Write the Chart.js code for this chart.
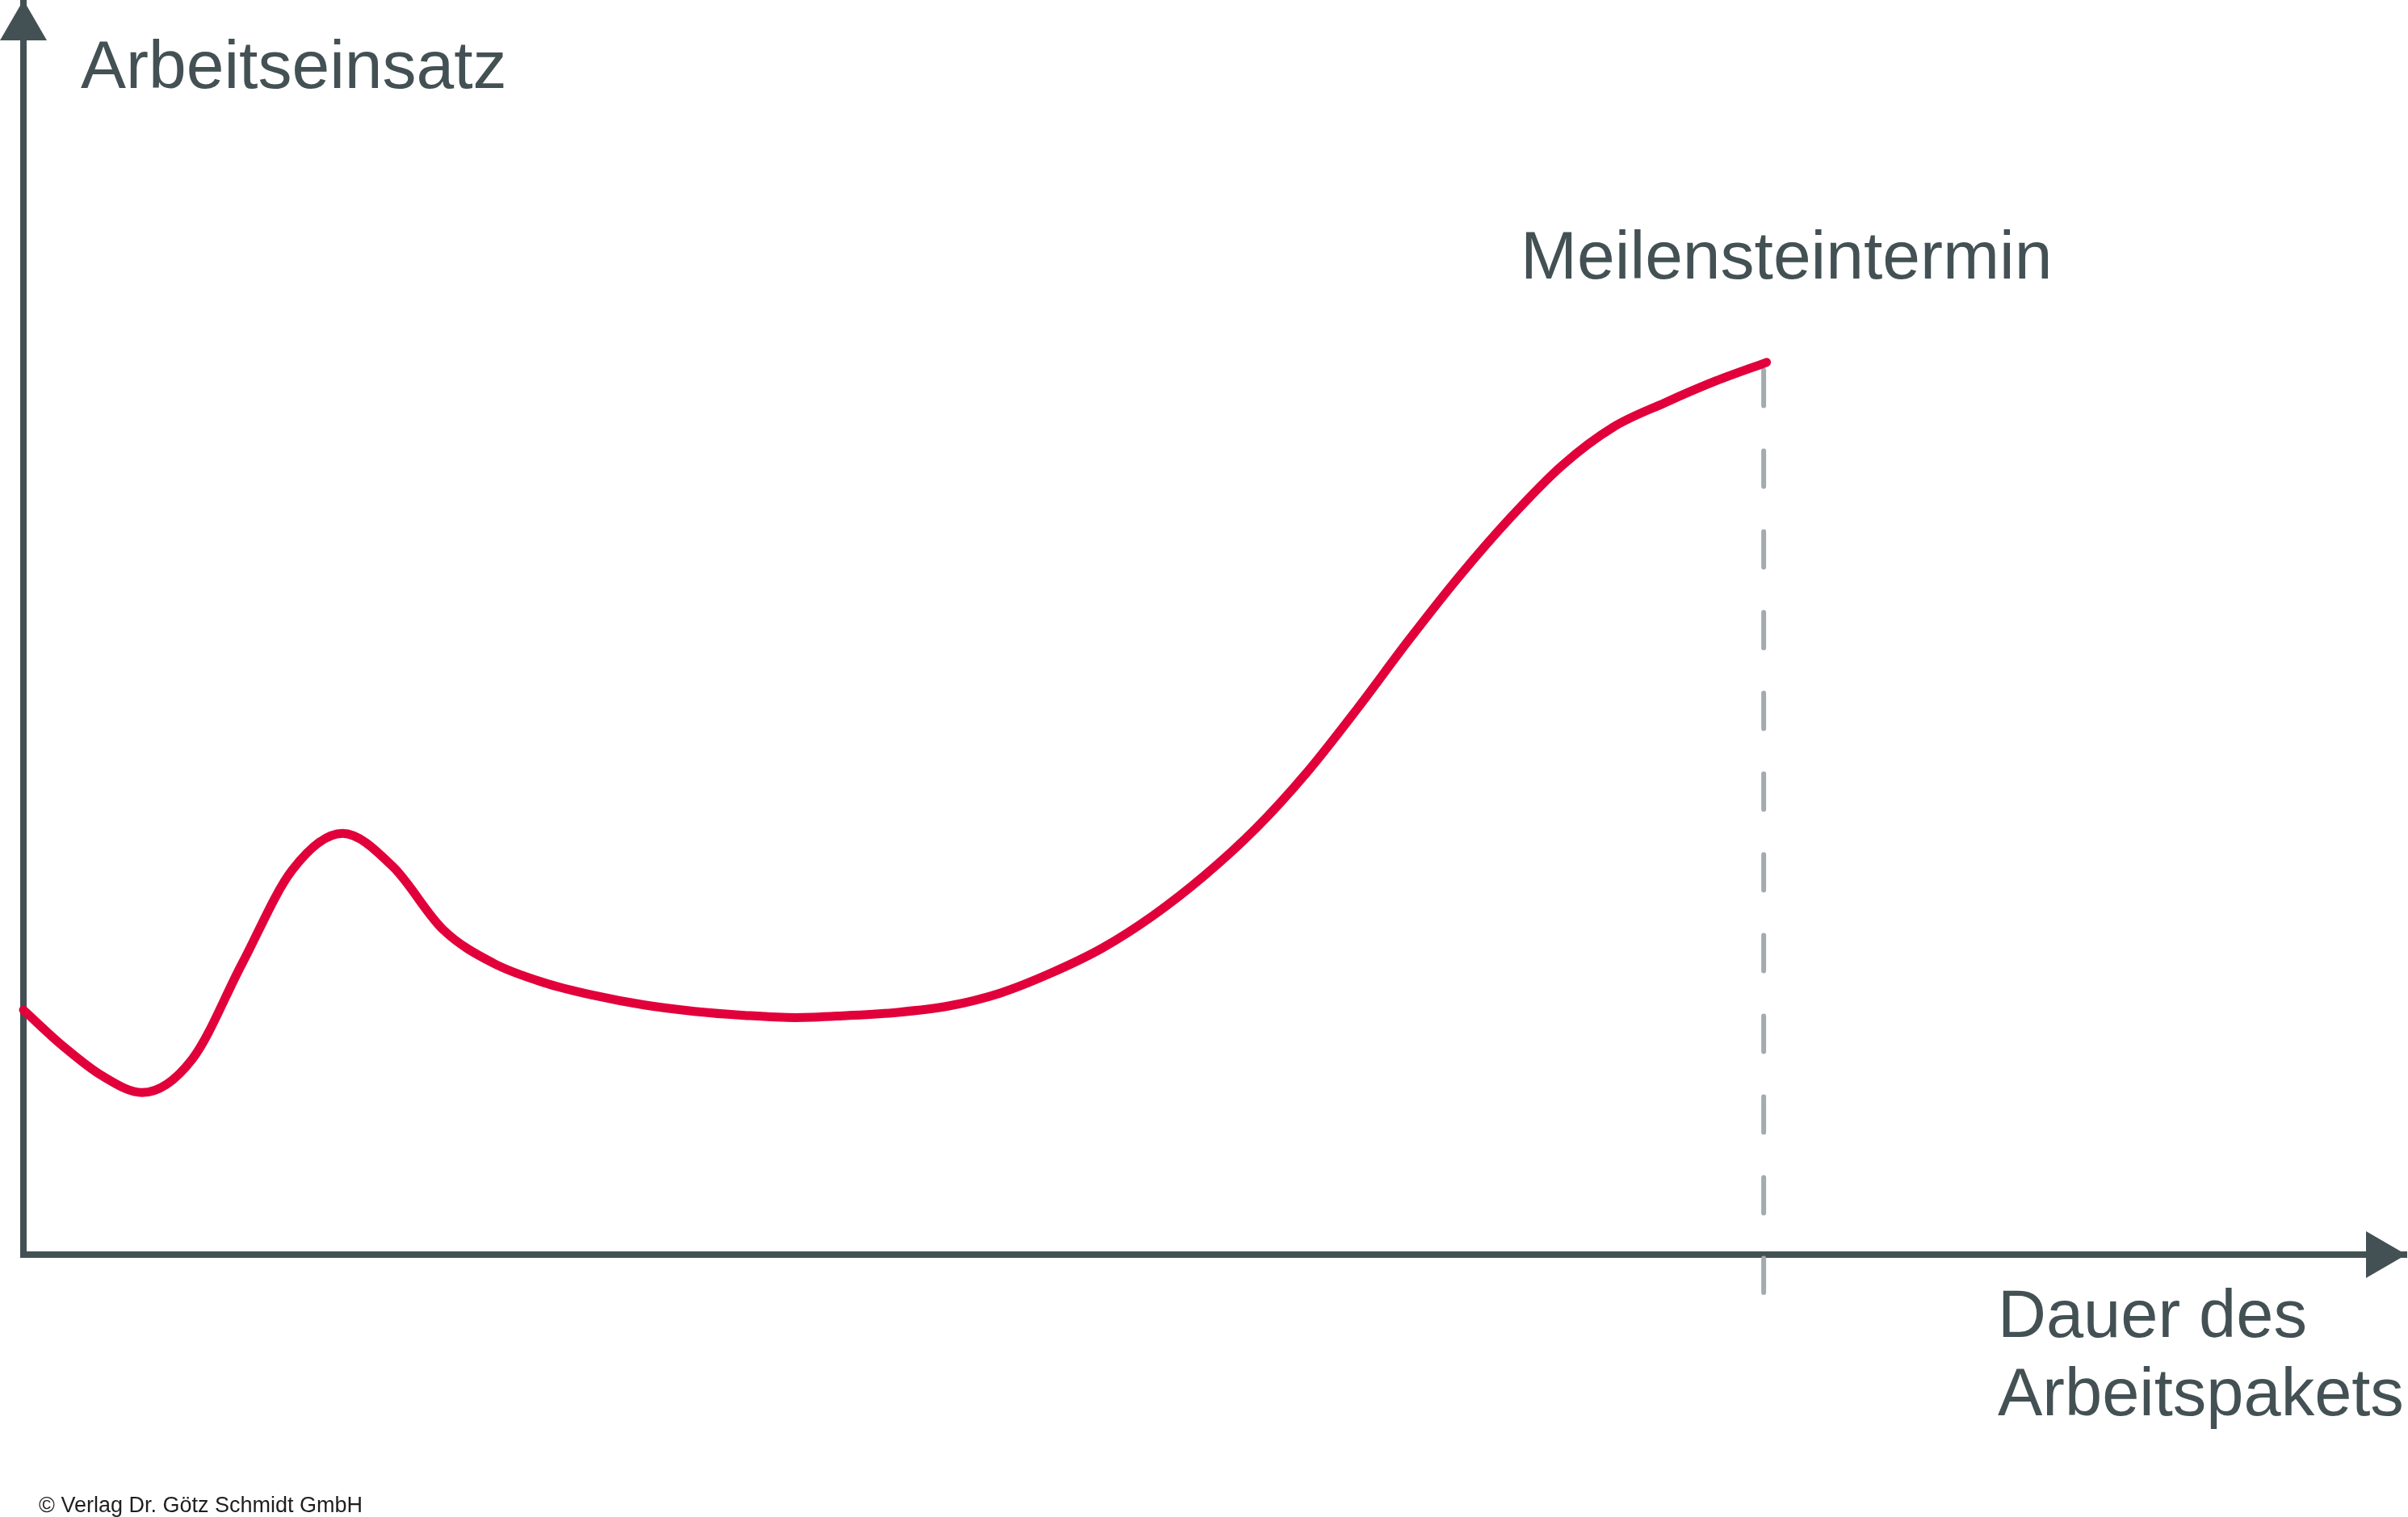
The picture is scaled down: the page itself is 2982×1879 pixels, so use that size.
<!DOCTYPE html>
<html lang="de">
<head>
<meta charset="utf-8">
<title>Arbeitseinsatz</title>
<script src="https://cdn.jsdelivr.net/npm/chart.js@4.4.1/dist/chart.umd.min.js"></script>
<style>
  html, body { margin: 0; padding: 0; background: #fff; }
  canvas { display: block; }
</style>
</head>
<body>
<canvas id="effortChart" width="2982" height="1879"></canvas>
<script>
// time axis (0..100 = whole x axis up to the arrow tip)
const zeit = [0, 1.66, 3.32, 4.98, 7.08, 9.18, 11.28, 13.39, 15.50, 17.61, 19.72, 21.83,
  23.94, 26.05, 28.16, 30.27, 32.40, 34.54, 36.69, 38.83, 40.98, 43.12, 45.27, 47.41,
  49.56, 51.70, 53.85, 55.99, 58.14, 60.28, 62.43, 64.57, 66.72, 68.86, 71.01, 73.15];
// effort (0..100 = whole y axis up to the arrow tip)
const einsatz = [19.50, 16.62, 14.23, 12.92, 15.57, 23.21, 30.65, 33.57, 30.93, 25.91,
  23.23, 21.69, 20.66, 19.90, 19.39, 19.07, 18.89, 19.05, 19.31, 19.82, 20.84, 22.44,
  24.43, 27.03, 30.21, 33.93, 38.41, 43.55, 48.99, 54.12, 58.80, 62.90, 65.96, 67.88,
  69.63, 71.12];

const meilenstein = 73.03;
const meilensteinSpanne = [70.5, -3.02];

const yTitel = 'Arbeitseinsatz';
const xTitel = ['Dauer des', 'Arbeitspakets'];
const meilensteinTitel = 'Meilensteintermin';
const copyright = '© Verlag Dr. Götz Schmidt GmbH';

const axisColor = '#435154';
const curveColor = '#E2003B';
const dashColor = '#A3ABAE';
const fontFamily = '"Liberation Sans", Arial, sans-serif';

const curvePoints = zeit.map((x, i) => ({ x: x, y: einsatz[i] }));
const milestonePoints = meilensteinSpanne.map(y => ({ x: meilenstein, y: y }));

// arrow heads and the free-standing texts
const decorations = {
  id: 'decorations',
  afterDraw(chart) {
    const { ctx } = chart;
    const xs = chart.scales.x;
    const ys = chart.scales.y;
    const ox = xs.getPixelForValue(0);
    const oy = ys.getPixelForValue(0);
    ctx.save();
    ctx.fillStyle = axisColor;

    // y arrow
    const topY = ys.getPixelForValue(100);
    ctx.beginPath();
    ctx.moveTo(ox, topY);
    ctx.lineTo(ox + 29, topY + 50);
    ctx.lineTo(ox - 29, topY + 50);
    ctx.closePath();
    ctx.fill();

    // x arrow
    const endX = xs.getPixelForValue(100);
    ctx.beginPath();
    ctx.moveTo(endX, oy);
    ctx.lineTo(endX - 50, oy - 29);
    ctx.lineTo(endX - 50, oy + 29);
    ctx.closePath();
    ctx.fill();

    ctx.font = '84px ' + fontFamily;
    ctx.textBaseline = 'alphabetic';
    ctx.textAlign = 'left';
    ctx.fillText(yTitel, ox + 71, topY + 109);

    const mx = xs.getPixelForValue(meilenstein);
    ctx.fillText(meilensteinTitel, mx - 301, 345);

    ctx.font = '83px ' + fontFamily;
    ctx.fillText(xTitel[0], 2474, oy + 102);
    ctx.fillText(xTitel[1], 2474, oy + 199);

    ctx.fillStyle = '#1e1e1e';
    ctx.font = '27px ' + fontFamily;
    ctx.fillText(copyright, 48, 1873);
    ctx.restore();
  }
};

new Chart(document.getElementById('effortChart'), {
  type: 'line',
  data: {
    datasets: [{
      label: 'Arbeitseinsatz',
      data: curvePoints,
      borderColor: curveColor,
      borderWidth: 11,
      borderCapStyle: 'round',
      borderJoinStyle: 'round',
      cubicInterpolationMode: 'monotone',
      pointRadius: 0,
      fill: false,
      clip: false
    }, {
      label: 'Meilensteintermin',
      data: milestonePoints,
      borderColor: dashColor,
      borderWidth: 6,
      borderDash: [44, 56],
      borderCapStyle: 'round',
      pointRadius: 0,
      fill: false,
      clip: false
    }]
  },
  options: {
    responsive: false,
    devicePixelRatio: 1,
    animation: false,
    layout: { padding: { left: 29, right: 2, top: 0, bottom: 325 } },
    plugins: { legend: { display: false }, tooltip: { enabled: false } },
    scales: {
      x: {
        type: 'linear', min: 0, max: 100,
        ticks: { display: false },
        grid: { display: false, drawTicks: false },
        border: { display: true, color: axisColor, width: 8 }
      },
      y: {
        type: 'linear', min: 0, max: 100,
        ticks: { display: false },
        grid: { display: false, drawTicks: false },
        border: { display: true, color: axisColor, width: 8 }
      }
    }
  },
  plugins: [decorations]
});
</script>
</body>
</html>
